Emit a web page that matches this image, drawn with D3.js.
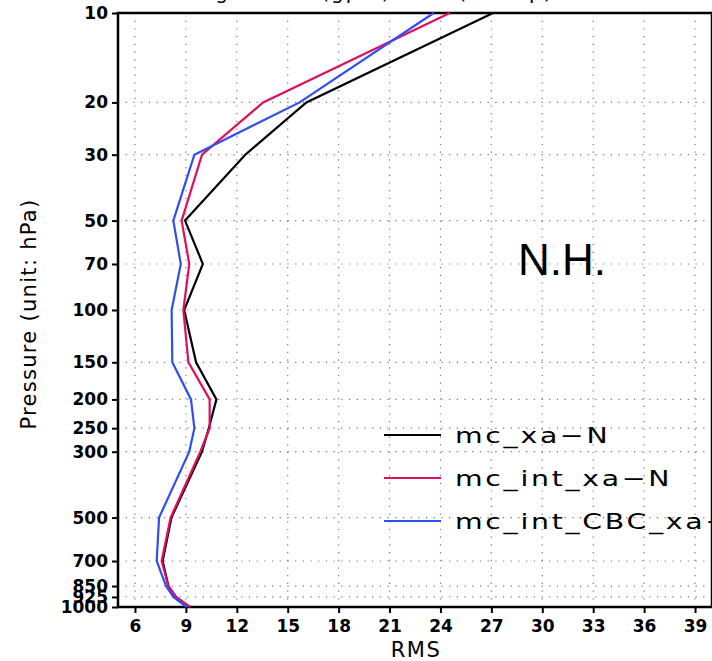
<!DOCTYPE html>
<html>
<head>
<meta charset="utf-8">
<script src="https://cdn.jsdelivr.net/npm/d3@7"></script>
<style>
  body { margin: 0; background: #fff; }
  svg { display: block; }
  .tick-label { font-family: 'DejaVu Sans', sans-serif; font-weight: bold; font-size: 17px; }
  .thin { font-family: 'DejaVu Sans', sans-serif; font-weight: normal; }
</style>
</head>
<body>
<div id="chart"></div>
<script>
// pressure levels (hPa)
var levels = [10, 20, 30, 50, 70, 100, 150, 200, 250, 300, 500, 700, 850, 925, 1000];
var levelLabels = ['10', '20', '30', '50', '70', '100', '150', '200', '250', '300', '500', '700', '850', '925', '1000'];
var xTicks = [6, 9, 12, 15, 18, 21, 24, 27, 30, 33, 36, 39];

// RMS per level
var mcXaN = [27.1, 16.1, 12.5, 8.95, 10.0, 8.9, 9.6, 10.8, 10.35, 9.95, 8.15, 7.63, 7.97, 8.4, 9.2];
var mcIntXaN = [24.55, 13.55, 9.95, 8.75, 9.2, 8.85, 9.15, 10.4, 10.4, 9.85, 8.1, 7.57, 7.97, 8.42, 9.24];
var mcIntCbcXa = [23.6, 15.7, 9.5, 8.26, 8.7, 8.16, 8.2, 9.3, 9.5, 9.2, 7.42, 7.28, 7.83, 8.26, 9.05];

var seriesNames = ['mc_xa\u2212N', 'mc_int_xa\u2212N', 'mc_int_CBC_xa\u2212N'];
var seriesColors = ['#000000', '#e0105e', '#2f4ef5'];
var seriesValues = [mcXaN, mcIntXaN, mcIntCbcXa];

(function () {
    var width = 712;
    var height = 661;
    var pLeft = 118, pRight = 712, pTop = 13, pBottom = 607;

    var svg = d3.select('#chart').append('svg')
        .attr('width', width)
        .attr('height', height);

    var x = d3.scaleLinear()
        .domain([5, 40])
        .range([pLeft, pRight]);

    var y = d3.scaleLog()
        .domain([10, 1000])
        .range([pTop, pBottom]);

    // title (mostly cut off at top)
    svg.append('text')
        .attr('class', 'thin')
        .attr('x', 365)
        .attr('y', -1)
        .attr('text-anchor', 'middle')
        .style('font-size', '20px')
        .style('letter-spacing', '2px')
        .text('Height Bias (gpm) RMS (xa\u2212op)');

    // grid
    var grid = svg.append('g').attr('class', 'grid');
    grid.selectAll('.vgrid')
        .data(xTicks)
        .enter()
        .append('line')
        .attr('x1', function (d) { return x(d); })
        .attr('x2', function (d) { return x(d); })
        .attr('y1', pTop)
        .attr('y2', pBottom)
        .attr('stroke', '#777')
        .attr('stroke-width', 1.2)
        .attr('stroke-dasharray', '1.2,6.5');

    grid.selectAll('.hgrid')
        .data(levels.slice(1, -1))
        .enter()
        .append('line')
        .attr('x1', pLeft)
        .attr('x2', pRight)
        .attr('y1', function (d) { return y(d); })
        .attr('y2', function (d) { return y(d); })
        .attr('stroke', '#777')
        .attr('stroke-width', 1.2)
        .attr('stroke-dasharray', '1.2,6.5');

    // axes
    var yAxis = d3.axisLeft(y)
        .tickValues(levels)
        .tickFormat(function (d, i) { return levelLabels[i]; })
        .tickSize(6)
        .tickPadding(4);

    var gy = svg.append('g')
        .attr('transform', 'translate(' + pLeft + ',0)')
        .call(yAxis);

    var xAxis = d3.axisBottom(x)
        .tickValues(xTicks)
        .tickSize(6)
        .tickPadding(7);

    var gx = svg.append('g')
        .attr('transform', 'translate(0,' + pBottom + ')')
        .call(xAxis);

    [gx, gy].forEach(function (g) {
        g.select('.domain').remove();
        g.selectAll('.tick line').attr('stroke', '#000').attr('stroke-width', 2);
        g.selectAll('.tick text')
            .attr('class', 'tick-label')
            .attr('fill', '#000');
    });

    // frame
    svg.append('rect')
        .attr('x', pLeft)
        .attr('y', pTop)
        .attr('width', pRight - pLeft)
        .attr('height', pBottom - pTop)
        .attr('fill', 'none')
        .attr('stroke', '#000')
        .attr('stroke-width', 2.5);

    // profiles
    var line = d3.line()
        .x(function (d) { return x(d[0]); })
        .y(function (d) { return y(d[1]); });

    seriesValues.forEach(function (vals, i) {
        svg.append('path')
            .datum(vals.map(function (v, j) { return [v, levels[j]]; }))
            .attr('d', line)
            .attr('fill', 'none')
            .attr('stroke', seriesColors[i])
            .attr('stroke-width', 2.2)
            .attr('stroke-linejoin', 'miter');
    });

    // legend
    var legend = svg.append('g');
    seriesNames.forEach(function (name, i) {
        var ly = 435 + i * 43;
        legend.append('line')
            .attr('x1', 384)
            .attr('x2', 441)
            .attr('y1', ly)
            .attr('y2', ly)
            .attr('stroke', seriesColors[i])
            .attr('stroke-width', 2);
        // wide, thin lettering like the plotting package's stroke font
        legend.append('text')
            .attr('class', 'thin')
            .attr('transform', 'translate(455,' + (ly + 8) + ') scale(1.35,1)')
            .style('font-size', '21px')
            .style('letter-spacing', '2px')
            .text(name);
    });

    // region label
    svg.append('text')
        .attr('x', 518)
        .attr('y', 275)
        .style('font-family', 'Liberation Sans, Arial, sans-serif')
        .style('font-size', '44px')
        .text('N.H.');

    // axis titles
    svg.append('text')
        .attr('class', 'thin')
        .attr('x', 416)
        .attr('y', 657)
        .attr('text-anchor', 'middle')
        .style('font-size', '21px')
        .style('letter-spacing', '1.5px')
        .text('RMS');

    svg.append('text')
        .attr('class', 'thin')
        .attr('transform', 'translate(36,' + 314 + ') rotate(-90)')
        .attr('text-anchor', 'middle')
        .style('font-size', '21px')
        .style('letter-spacing', '1.3px')
        .text('Pressure (unit: hPa)');
})();
</script>
</body>
</html>
